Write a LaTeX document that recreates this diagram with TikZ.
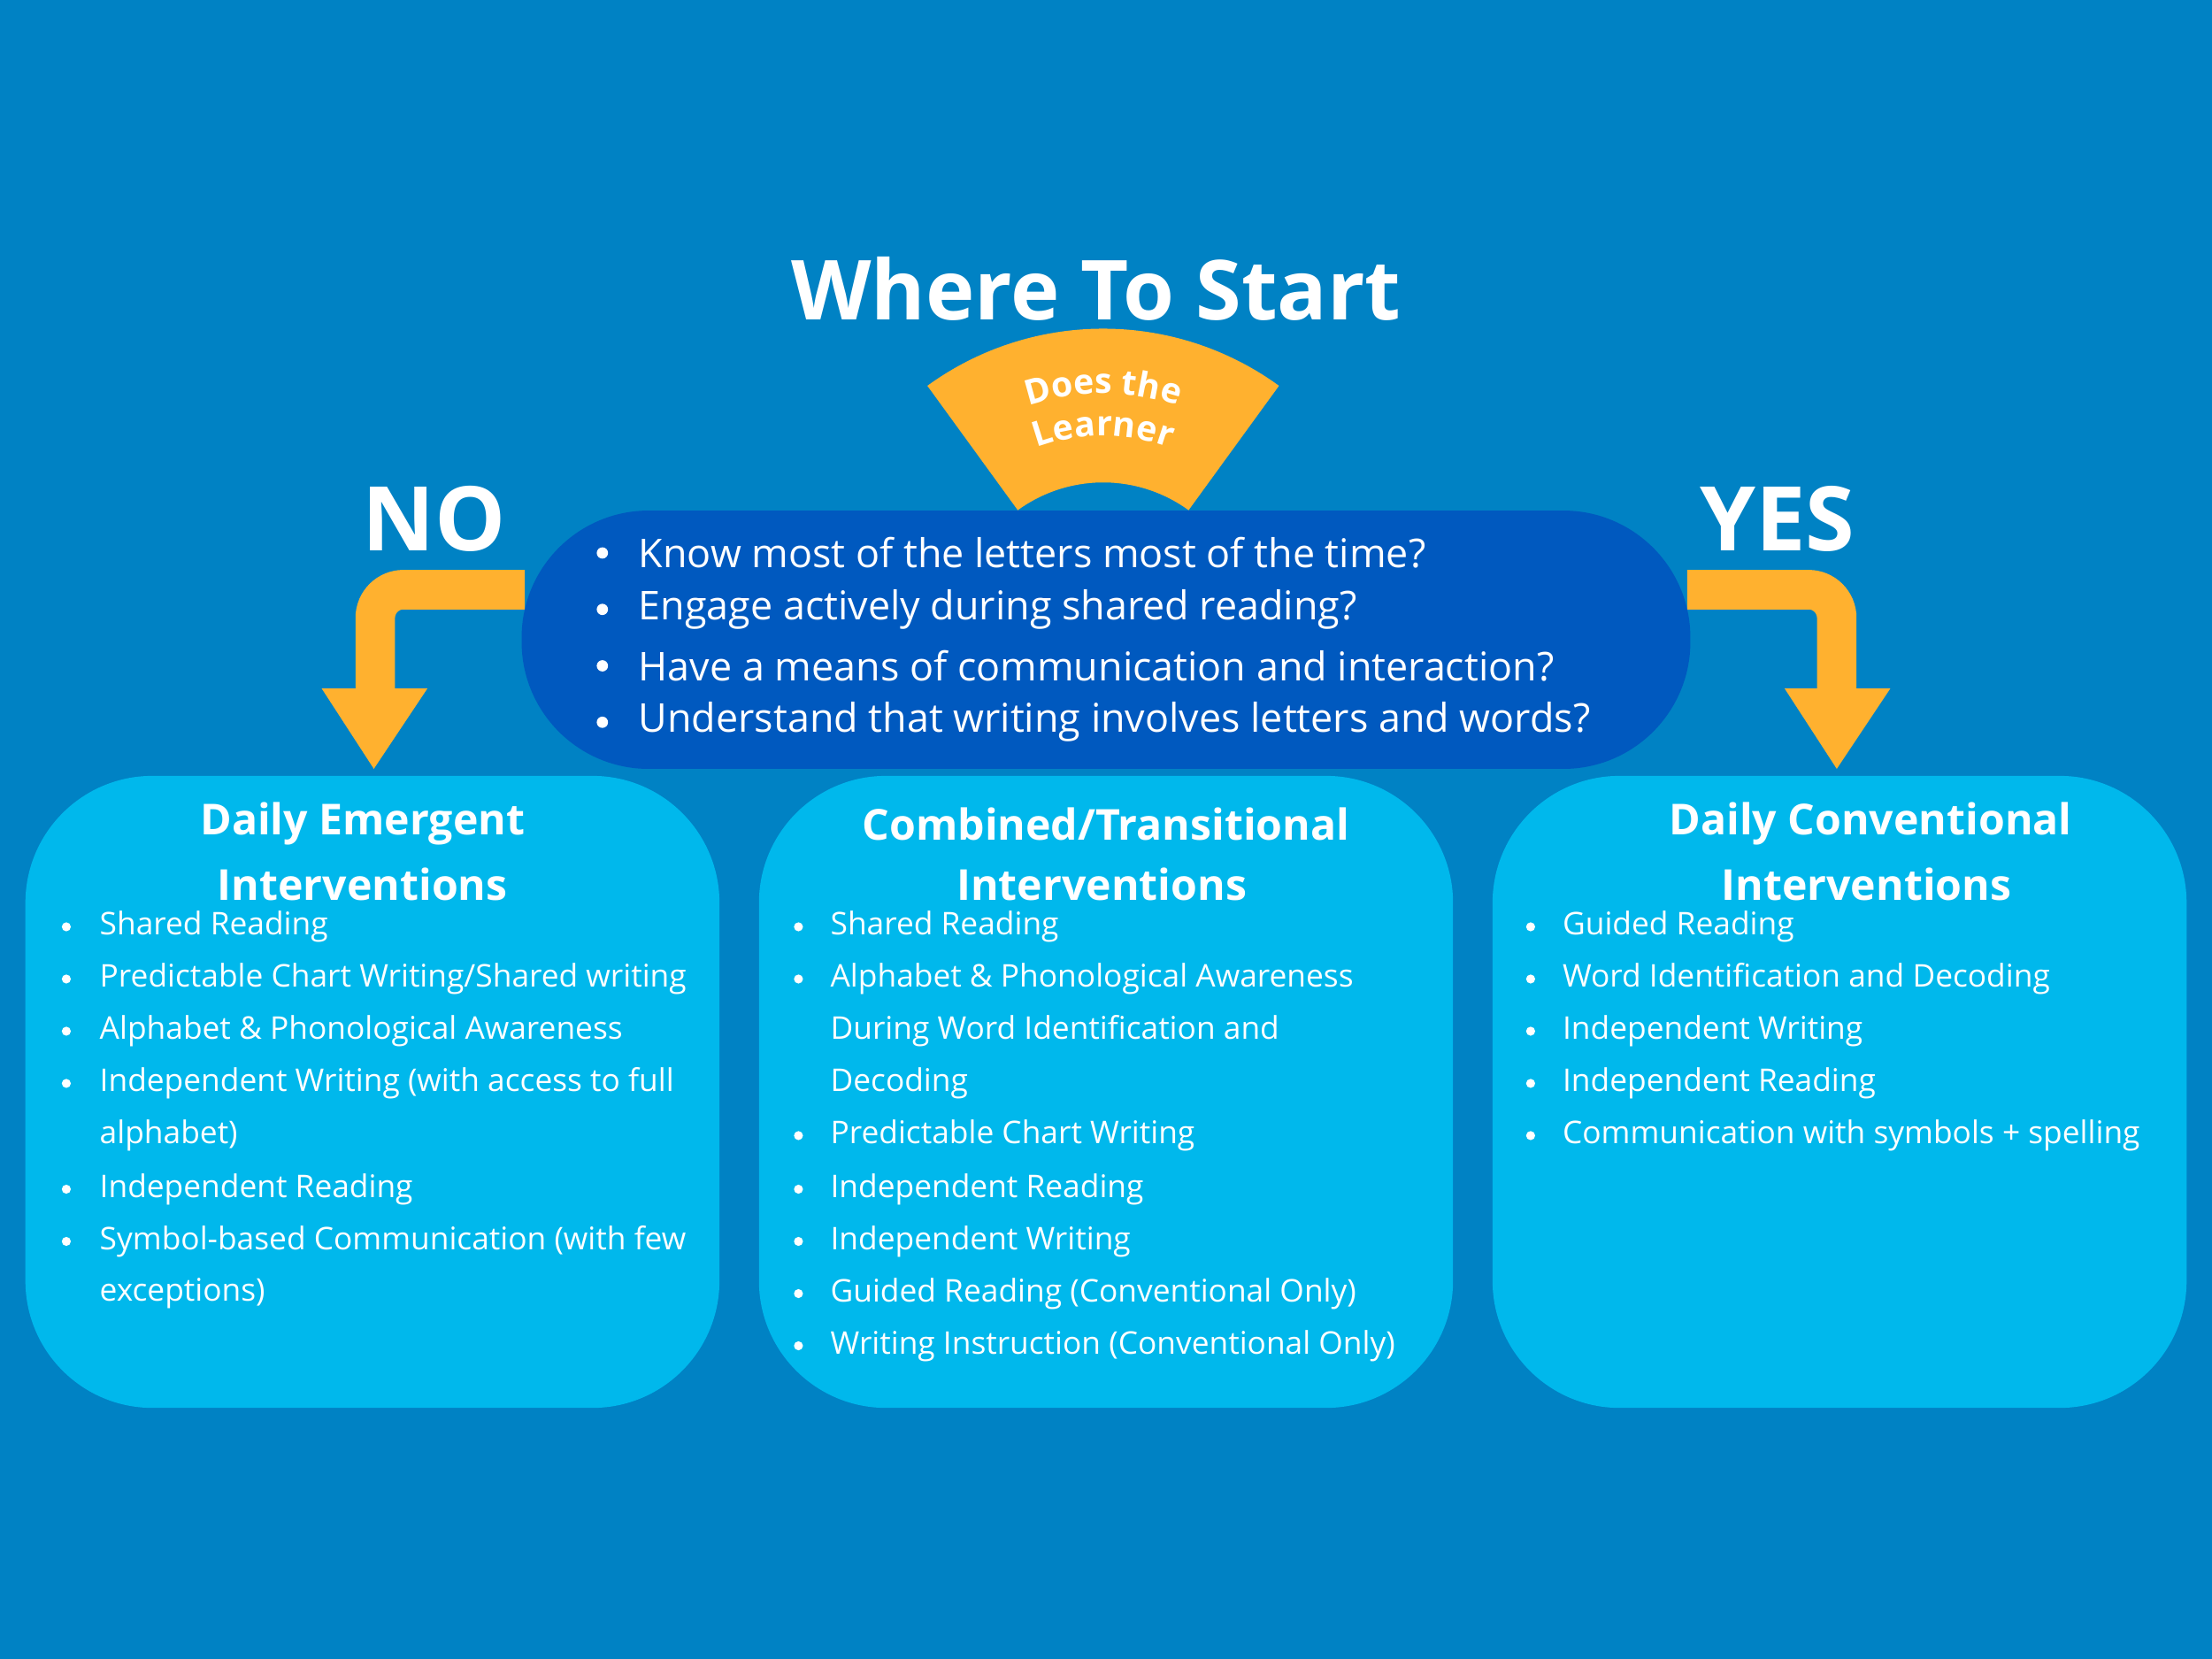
\documentclass[tikz,border=0pt]{standalone}
\usepackage{fontspec}
\setmainfont{Open Sans}
\usetikzlibrary{decorations.text,calc}
\definecolor{bg}{HTML}{0082C4}
\definecolor{pill}{HTML}{0059BF}
\definecolor{boxc}{HTML}{00B8EC}
\definecolor{orng}{HTML}{FFB12F}
\tikzset{
  card/.style={fill=boxc,rounded corners=0.9cm},
  head/.style={text=white,font=\fontsize{8.6}{10}\selectfont\bfseries,anchor=center},
  item/.style={text=white,font=\fontsize{6.3}{7.5}\selectfont,anchor=west,inner sep=0pt},
  qtext/.style={text=white,font=\fontsize{8}{9.5}\selectfont,anchor=west,inner sep=0pt},
  big/.style={text=white,font=\fontsize{18}{20}\selectfont\bfseries},
  arrowband/.style={draw=orng,line width=0.28cm,rounded corners=0.2cm}
}
\begin{document}
\begin{tikzpicture}[x=0.01cm,y=0.01cm]
\fill[bg] (0,0) rectangle (1568,1176);
\node[big,font=\fontsize{16.7}{19}\selectfont\bfseries] (title) at (777,971) {Where To Start};
% sector
\fill[orng] ($(782,731)+(54:103)$) arc (54:126:103) -- ($(782,731)+(126:212)$) arc (126:54:212) -- cycle;
\path[decorate,decoration={text along path,text align=center,text={|\fontsize{7}{8}\selectfont\bfseries\color{white}|Does the}}] ($(782,731)+(126:166)$) arc (126:54:166);
\path[decorate,decoration={text along path,text align=center,text={|\fontsize{7}{8}\selectfont\bfseries\color{white}|Learner}}] ($(782,731)+(126:136)$) arc (126:54:136);
% arrows
\coordinate (noS) at (372,758); \coordinate (noE) at (266,688);
\coordinate (yesS) at (1196,758); \coordinate (yesE) at (1302,688);
\draw[arrowband] (noS) -| (noE);
\draw[arrowband] (yesS) -| (yesE);
\fill[orng] (228,688) -- (303,688) -- (265,631) -- cycle;
\fill[orng] (1265,688) -- (1340,688) -- (1302,631) -- cycle;
% pill
\node[fill=pill,rounded corners=0.9cm,minimum width=8.28cm,minimum height=1.83cm,inner sep=0pt] (q) at (784,722.5) {};
\node[big] (no) at (308,808) {NO};
\node[big] (yes) at (1260,808) {YES};
\foreach \y/\t in {784/Know most of the letters most of the time?,744/Engage actively during shared reading?,704/Have a means of communication and interaction?,664/Understand that writing involves letters and words?}{
  \fill[white] (427,\y) circle (4);
  \node[qtext] at (452,\y) {\t};
}
% cards
\fill[card] (18,178) rectangle (510,626);
\fill[card] (538,178) rectangle (1030,626);
\fill[card] (1058,178) rectangle (1550,626);
\node[head] (h1a) at (257,592) {Daily Emergent};
\node[head] (h1b) at (257,549) {Interventions};
\node[head] (h2a) at (784,592) {Combined/Transitional};
\node[head] (h2b) at (781,549) {Interventions};
\node[head] (h3a) at (1326,592) {Daily Conventional};
\node[head] (h3b) at (1323,549) {Interventions};
\foreach \y/\b/\t in {519/1/Shared Reading,482/1/{Predictable Chart Writing/Shared writing},445/1/Alphabet \& Phonological Awareness,408/1/Independent Writing (with access to full,371/0/alphabet),333/1/Independent Reading,296/1/Symbol-based Communication (with few,259/0/exceptions)}{
  \ifnum\b=1 \fill[white] (47,\y) circle (3.2);\fi
  \node[item] at (70,\y) {\t};
}
\foreach \y/\b/\t in {519/1/Shared Reading,482/1/Alphabet \& Phonological Awareness,445/0/During Word Identification and,408/0/Decoding,371/1/Predictable Chart Writing,333/1/Independent Reading,296/1/Independent Writing,259/1/Guided Reading (Conventional Only),222/1/Writing Instruction (Conventional Only)}{
  \ifnum\b=1 \fill[white] (566,\y) circle (3.2);\fi
  \node[item] at (588,\y) {\t};
}
\foreach \y/\b/\t in {519/1/Guided Reading,482/1/Word Identification and Decoding,445/1/Independent Writing,408/1/Independent Reading,371/1/Communication with symbols + spelling}{
  \ifnum\b=1 \fill[white] (1085,\y) circle (3.2);\fi
  \node[item] at (1107,\y) {\t};
}
\end{tikzpicture}
\end{document}
